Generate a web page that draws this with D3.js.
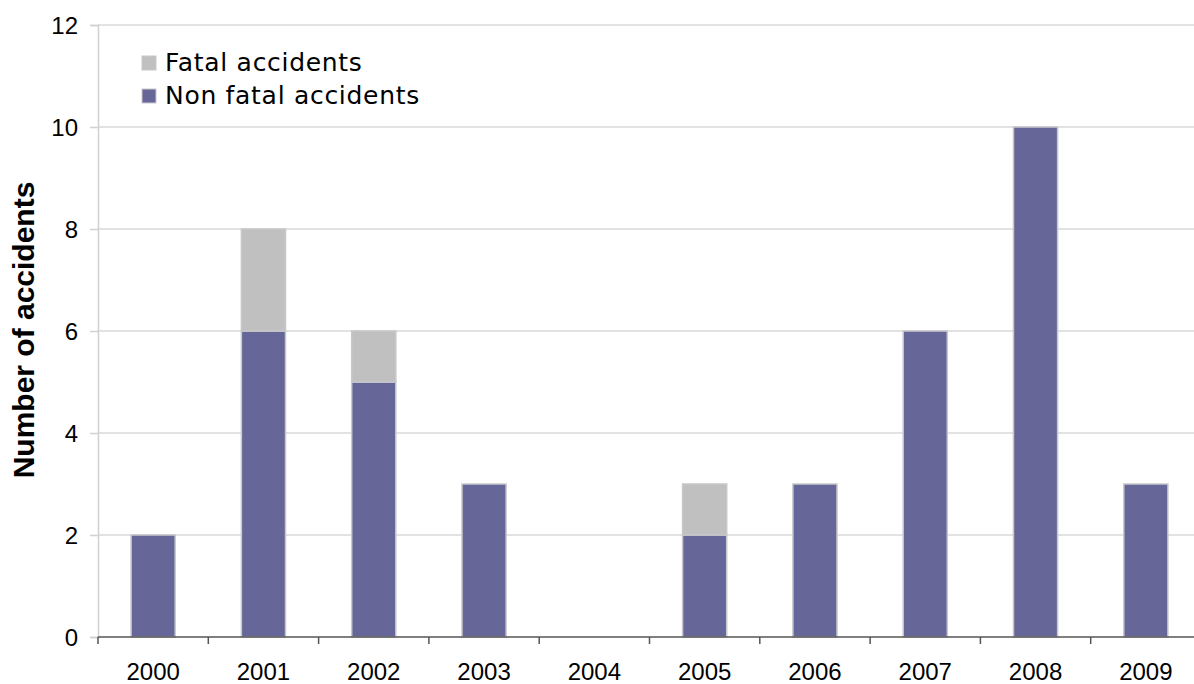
<!DOCTYPE html>
<html>
<head>
<meta charset="utf-8">
<script src="https://cdn.jsdelivr.net/npm/d3@7"></script>
<style>
  html, body { margin: 0; padding: 0; background: #fff; overflow: hidden; }
  svg { display: block; }
</style>
</head>
<body>
<svg id="chart" width="1194" height="684"></svg>
<script>
// Accidents per year, split by outcome
const years = ["2000", "2001", "2002", "2003", "2004", "2005", "2006", "2007", "2008", "2009"];
const nonFatal = [2, 6, 5, 3, 0, 2, 3, 6, 10, 3];
const fatal = [0, 2, 1, 0, 0, 1, 0, 0, 0, 0];
const yTicks = [0, 2, 4, 6, 8, 10, 12];
const seriesNames = ["Fatal accidents", "Non fatal accidents"];
const seriesColors = ["#c0c0c0", "#666699"];

const svg = d3.select("#chart");
const plotLeft = 98, plotRight = 1201, plotTop = 25, plotBottom = 637;

const x = d3.scaleBand().domain(years).range([plotLeft, plotRight]).paddingInner(0.6).paddingOuter(0.3);
const y = d3.scaleLinear().domain([0, 12]).range([plotBottom, plotTop]);

// horizontal gridlines
svg.append("g").selectAll("line").data(yTicks.filter(d => d > 0)).join("line")
  .attr("x1", plotLeft).attr("x2", 1194)
  .attr("y1", d => y(d)).attr("y2", d => y(d))
  .attr("stroke", "#d9d9d9").attr("stroke-width", 1.5);

// y axis
const yAxis = svg.append("g").attr("transform", `translate(${plotLeft},0)`)
  .call(d3.axisLeft(y).tickValues(yTicks).tickSize(8).tickPadding(12).tickFormat(d3.format("d")));
yAxis.attr("font-size", null).attr("font-family", null);
yAxis.select(".domain").attr("stroke", "#d0d0d0").attr("stroke-width", 1.5);
yAxis.selectAll(".tick line").attr("stroke", "#d0d0d0").attr("stroke-width", 1.5);
yAxis.selectAll("text")
  .style("font-family", "'Liberation Sans', Arial, sans-serif")
  .style("font-size", "24px").attr("fill", "#000").attr("dy", "0.35em");

// stacked bars
const stackData = years.map((yr, i) => ({ year: yr, nonFatal: nonFatal[i], fatal: fatal[i] }));
const stack = d3.stack().keys(["nonFatal", "fatal"])(stackData);
const keyColor = { nonFatal: seriesColors[1], fatal: seriesColors[0] };

svg.append("g").selectAll("g").data(stack).join("g")
  .attr("fill", d => keyColor[d.key])
  .selectAll("rect").data(d => d.filter(s => s[1] > s[0])).join("rect")
  .attr("x", d => x(d.data.year))
  .attr("width", x.bandwidth())
  .attr("y", d => y(d[1]))
  .attr("height", d => y(d[0]) - y(d[1]))
  .attr("stroke", "#c8c8cc").attr("stroke-width", 1.5);

// x axis with ticks at category boundaries
const xg = svg.append("g");
xg.append("line").attr("x1", plotLeft).attr("x2", 1194).attr("y1", plotBottom).attr("y2", plotBottom)
  .attr("stroke", "#555").attr("stroke-width", 1.5);
const step = x.step();
const bounds = years.map(d => x(d) - x.paddingInner() * step / 2);
xg.selectAll("line.tk").data(bounds).join("line").attr("class", "tk")
  .attr("x1", d => d).attr("x2", d => d).attr("y1", plotBottom).attr("y2", plotBottom + 7)
  .attr("stroke", "#555").attr("stroke-width", 1.5);
xg.selectAll("text").data(years).join("text")
  .attr("x", d => x(d) + x.bandwidth() / 2).attr("y", 680)
  .attr("text-anchor", "middle")
  .style("font-family", "'Liberation Sans', Arial, sans-serif").style("font-size", "24px")
  .text(d => d);

// y axis title
svg.append("text")
  .attr("transform", "translate(34,330) rotate(-90)")
  .attr("text-anchor", "middle")
  .style("font-family", "'Liberation Sans', Arial, sans-serif")
  .style("font-weight", "bold").style("font-size", "30px")
  .text("Number of accidents");

// legend
const legend = svg.append("g").selectAll("g").data(seriesNames).join("g")
  .attr("transform", (d, i) => `translate(142,${56 + i * 33})`);
legend.append("rect").attr("width", 14).attr("height", 14)
  .attr("fill", (d, i) => seriesColors[i]).attr("stroke", "#c8c8cc").attr("stroke-width", 1);
legend.append("text").attr("x", 23).attr("y", 15)
  .style("font-family", "'DejaVu Sans', Verdana, sans-serif").style("font-size", "25px")
  .style("letter-spacing", "0.7px")
  .text(d => d);
</script>
</body>
</html>
